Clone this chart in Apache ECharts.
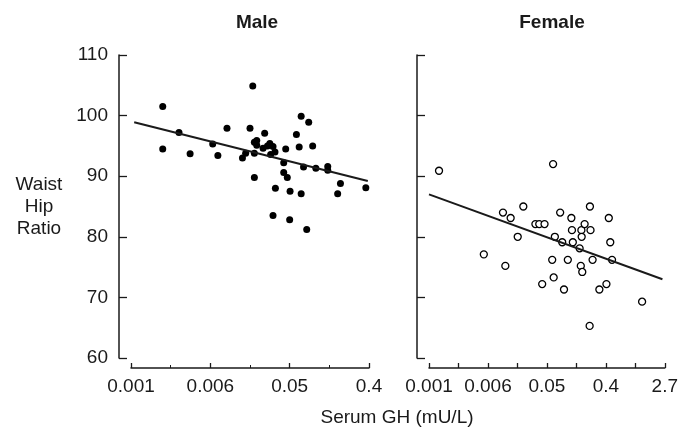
<!DOCTYPE html>
<html>
<head>
<meta charset="utf-8">
<script src="https://cdn.jsdelivr.net/npm/echarts@6/dist/echarts.min.js"></script>
<style>
  html, body { margin: 0; padding: 0; background: #fff; }
  #chart { width: 681px; height: 432px; }
</style>
</head>
<body>
<div id="chart"></div>
<script>
// x values are ln(serum GH); labels are the rounded GH values
var tickLabels = { '-7': '0.001', '-5': '0.006', '-3': '0.05', '-1': '0.4', '1': '2.7' };

var maleLnGH = [-6.20, -6.20, -5.79, -5.51, -4.94, -4.81, -4.58, -4.19, -4.11, -4.00,
  -3.89, -3.83, -3.83, -3.89, -3.89, -3.63, -3.67, -3.56, -3.42, -3.48,
  -3.37, -3.93, -3.10, -3.15, -3.15, -3.06, -3.36, -3.42, -2.99, -3.00,
  -2.83, -2.71, -2.52, -2.76, -2.42, -2.65, -2.71, -2.57, -2.34, -2.04,
  -2.04, -1.72, -1.79, -1.08, -3.50];
var maleWHR = [101.5, 94.5, 97.2, 93.7, 95.3, 93.4, 97.9, 93.0, 93.8, 97.9,
  95.6, 95.9, 95.1, 93.8, 89.8, 97.1, 94.6, 95.0, 94.9, 93.6,
  94.0, 104.9, 94.5, 92.2, 90.6, 89.8, 88.0, 83.5, 87.5, 82.8,
  96.9, 99.9, 98.9, 94.8, 95.0, 91.5, 87.1, 81.2, 91.3, 91.6,
  91.0, 88.8, 87.1, 88.1, 95.4];

var femaleLnGH = [-6.66, -2.79, -5.14, -4.41, -4.49, -4.23, -3.80, -3.99, -3.39, -3.26,
  -3.08, -2.55, -2.73, -2.48, -2.82, -2.77, -3.16, -2.42, -2.29, -2.17,
  -2.15, -2.12, -1.89, -1.83, -1.82, -1.72, -1.54, -1.52, -1.85, -1.80,
  -1.45, -1.55, -1.22, -0.98, -0.90, -0.85, -0.79, 0.23];
var femaleWHR = [90.9, 92.0, 77.1, 75.2, 84.0, 83.1, 85.0, 80.0, 82.1, 82.1,
  82.1, 84.0, 80.0, 79.1, 76.2, 73.3, 72.2, 71.3, 76.2, 83.1,
  81.1, 79.1, 78.1, 81.1, 80.0, 82.1, 85.0, 81.1, 75.2, 74.2,
  76.2, 65.3, 71.3, 72.2, 83.1, 79.1, 76.2, 69.3];

// regression lines (end points)
var maleFitX = [-6.92, -1.03];
var maleFitY = [98.9, 89.2];
var femaleFitX = [-7.0, 0.92];
var femaleFitY = [87.0, 73.0];

function pairs(xs, ys) {
  return xs.map(function (x, i) { return [x, ys[i]]; });
}

var ink = '#1a1a1a';
var font = 'Liberation Sans, Arial, Helvetica, sans-serif';

function xAxisFor(idx, max, interval, showMinor) {
  return {
    type: 'value', gridIndex: idx, min: -7, max: max, interval: interval,
    offset: 10,
    splitLine: { show: false },
    axisLine: { onZero: false, lineStyle: { color: ink, width: 1.5 } },
    axisTick: { inside: true, length: 5, lineStyle: { color: ink, width: 1.3 } },
    minorTick: { show: showMinor, splitNumber: 2, length: 3, lineStyle: { color: ink, width: 1 } },
    axisLabel: {
      color: ink, fontFamily: font, fontSize: 19, margin: 9,
      interval: 0, showMinLabel: true, showMaxLabel: true,
      formatter: function (v) { return tickLabels[String(v)] || ''; }
    }
  };
}

function yAxisFor(idx, showLabels) {
  return {
    type: 'value', gridIndex: idx, min: 60, max: 110, interval: 10,
    offset: 12,
    splitLine: { show: false },
    axisLine: { show: true, onZero: false, lineStyle: { color: ink, width: 1.5 } },
    axisTick: { show: true, inside: true, length: 8, lineStyle: { color: ink, width: 1.3 } },
    axisLabel: { show: showLabels, color: ink, fontFamily: font, fontSize: 19, margin: 11 }
  };
}

var myChart = echarts.init(document.getElementById('chart'));

var option = {
  backgroundColor: '#fff',
  animation: false,
  textStyle: { fontFamily: font },
  grid: [
    { left: 131, right: 312, top: 55, height: 303 },
    { left: 429, right: 15, top: 55, height: 303 }
  ],
  xAxis: [xAxisFor(0, -1, 2, true), xAxisFor(1, 1, 1, false)],
  yAxis: [yAxisFor(0, true), yAxisFor(1, false)],
  graphic: [
    { type: 'text', style: { text: 'Male', x: 257, y: 23, textAlign: 'center', textVerticalAlign: 'middle',
        font: 'bold 19px ' + font, fill: ink } },
    { type: 'text', style: { text: 'Female', x: 552, y: 23, textAlign: 'center', textVerticalAlign: 'middle',
        font: 'bold 19px ' + font, fill: ink } },
    { type: 'text', style: { text: 'Waist\nHip\nRatio', x: 39, y: 207, textAlign: 'center', textVerticalAlign: 'middle',
        font: '19px ' + font, lineHeight: 22, fill: ink } },
    { type: 'text', style: { text: 'Serum GH (mU/L)', x: 397, y: 418, textAlign: 'center', textVerticalAlign: 'middle',
        font: '19px ' + font, fill: ink } }
  ],
  series: [
    {
      name: 'Male', type: 'scatter', xAxisIndex: 0, yAxisIndex: 0,
      symbol: 'circle', symbolSize: 7,
      itemStyle: { color: '#000', opacity: 1 },
      data: pairs(maleLnGH, maleWHR)
    },
    {
      name: 'Male fit', type: 'line', xAxisIndex: 0, yAxisIndex: 0,
      showSymbol: false, symbol: 'none',
      lineStyle: { color: ink, width: 2 },
      data: pairs(maleFitX, maleFitY)
    },
    {
      name: 'Female', type: 'scatter', xAxisIndex: 1, yAxisIndex: 1,
      symbol: 'circle', symbolSize: 7,
      itemStyle: { color: '#fff', borderColor: '#000', borderWidth: 1.3, opacity: 1 },
      data: pairs(femaleLnGH, femaleWHR)
    },
    {
      name: 'Female fit', type: 'line', xAxisIndex: 1, yAxisIndex: 1,
      showSymbol: false, symbol: 'none',
      lineStyle: { color: ink, width: 2 },
      data: pairs(femaleFitX, femaleFitY)
    }
  ]
};

myChart.setOption(option);

window.addEventListener('resize', function () {
  myChart.resize();
});
</script>
</body>
</html>
